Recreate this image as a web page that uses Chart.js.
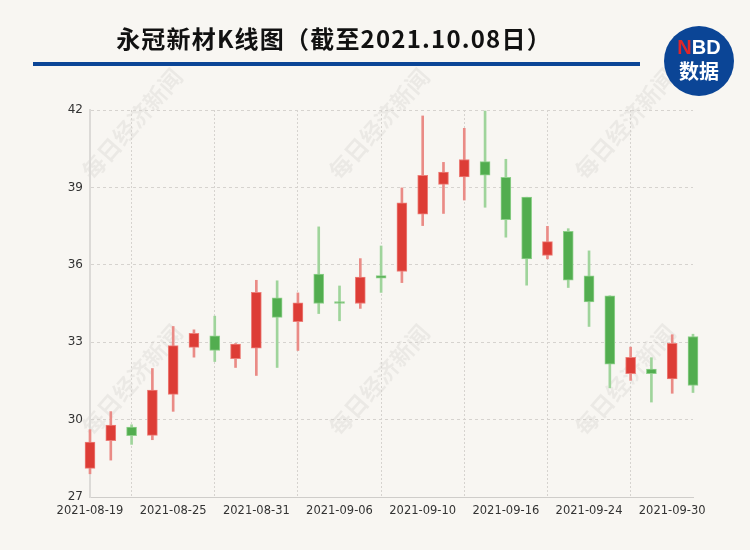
<!DOCTYPE html>
<html>
<head>
<meta charset="utf-8">
<script src="https://cdn.jsdelivr.net/npm/chart.js@4.4.0/dist/chart.umd.min.js"></script>
<style>
  body { margin: 0; background: #f8f6f2; width: 750px; height: 550px; overflow: hidden; position: relative; }
  #title { position: absolute; left: 0; width: 668px; top: 20px; text-align: center; font: bold 24px "Noto Sans CJK SC"; letter-spacing: 1.2px; color: #111; }
  #line { position: absolute; left: 33px; top: 62px; width: 607px; height: 4px; background: #0b4596; }
  #logo { position: absolute; left: 664px; top: 26px; width: 70px; height: 70px; border-radius: 50%; background: #0b4596; color: #fff; text-align: center; }
  #logo .a { position: absolute; left: 0; width: 70px; top: 10px; font: bold 20px "Liberation Sans"; line-height: 22px; }
  #logo .a span { color: #e0262b; }
  #logo .b { position: absolute; left: 0; width: 70px; top: 33px; font: bold 20px "Noto Sans CJK SC"; line-height: 24px; }
  canvas { position: absolute; left: 0; top: 0; }
</style>
</head>
<body>
<canvas id="myChart" width="750" height="550"></canvas>
<div id="title">永冠新材K线图（截至2021.10.08日）</div>
<div id="line"></div>
<div id="logo"><div class="a"><span>N</span>BD</div><div class="b">数据</div></div>
<script>
// 日K数据
const dates = ['2021-08-19', '2021-08-20', '2021-08-23', '2021-08-24', '2021-08-25', '2021-08-26', '2021-08-27', '2021-08-30', '2021-08-31',
    '2021-09-01', '2021-09-02', '2021-09-03', '2021-09-06', '2021-09-07', '2021-09-08', '2021-09-09', '2021-09-10',
    '2021-09-13', '2021-09-14', '2021-09-15', '2021-09-16', '2021-09-17', '2021-09-22', '2021-09-23', '2021-09-24',
    '2021-09-27', '2021-09-28', '2021-09-29', '2021-09-30', '2021-10-08'];
const open  = [28.11, 29.18, 29.71, 29.39, 30.98, 32.80, 33.25, 32.36, 32.77, 34.72, 33.80, 35.64, 34.53, 34.50, 35.58,
    35.74, 37.96, 39.12, 39.41, 40.00, 39.39, 38.62, 36.36, 37.30, 35.57, 34.80, 31.78, 31.96, 31.58, 33.22];
const close = [29.13, 29.79, 29.38, 31.14, 32.87, 33.34, 32.68, 32.93, 34.93, 33.96, 34.53, 34.50, 34.50, 35.52, 35.48,
    38.40, 39.47, 39.59, 40.08, 39.47, 37.75, 36.23, 36.90, 35.40, 34.56, 32.15, 32.41, 31.78, 32.96, 31.32];
const high  = [29.61, 30.31, 29.80, 31.98, 33.61, 33.48, 34.01, 32.95, 35.40, 35.38, 34.91, 37.47, 35.18, 36.24, 36.73,
    38.98, 41.77, 39.97, 41.29, 41.96, 40.09, 38.62, 37.49, 37.40, 36.54, 34.80, 32.81, 32.40, 33.29, 33.31];
const low   = [27.90, 28.43, 29.04, 29.22, 30.32, 32.42, 32.25, 32.02, 31.71, 32.02, 32.68, 34.11, 33.83, 34.31, 34.93,
    35.31, 37.52, 37.99, 38.51, 38.23, 37.07, 35.21, 36.23, 35.12, 33.61, 31.23, 31.52, 30.68, 31.02, 31.05];
const yTicks = [27, 30, 33, 36, 39, 42];

const up = (i) => close[i] >= open[i];

// 水印
const watermark = {
    id: 'watermark',
    beforeDraw(chart) {
        const c = chart.ctx;
        c.save();
        c.fillStyle = 'rgba(0,0,0,0.05)';
        c.font = 'bold 23px "Noto Sans CJK SC"';
        c.textAlign = 'center';
        c.textBaseline = 'middle';
        [132, 379, 625].forEach(x => {
            [124, 380].forEach(y => {
                c.save();
                c.translate(x, y);
                c.rotate(-0.85);
                c.fillText('每日经济新闻', 0, 0);
                c.restore();
            });
        });
        c.restore();
    }
};

const ctx = document.getElementById('myChart').getContext('2d');
const chart = new Chart(ctx, {
    type: 'bar',
    data: {
        labels: dates,
        datasets: [{
            label: 'body',
            data: dates.map((d, i) => [open[i], close[i]]),
            backgroundColor: (c) => up(c.dataIndex) ? '#dd3d36' : '#52ad4f',
            borderColor: (c) => up(c.dataIndex) ? '#ec7f79' : '#8fd08b',
            borderWidth: 1,
            borderSkipped: false,
            barThickness: 10,
            minBarLength: 2,
            grouped: false,
            clip: false,
            order: 0
        }, {
            label: 'wick',
            data: dates.map((d, i) => [low[i], high[i]]),
            backgroundColor: (c) => up(c.dataIndex) ? '#ea8b86' : '#9fd49b',
            borderWidth: 0,
            barThickness: 2,
            grouped: false,
            clip: false,
            order: 1
        }]
    },
    options: {
        responsive: false,
        animation: false,
        layout: { padding: { left: 0, right: 57, top: 110, bottom: 23 } },
        plugins: { legend: { display: false }, tooltip: { enabled: false } },
        scales: {
            x: {
                offset: false,
                grid: { color: (c) => c.index === 0 ? 'rgba(0,0,0,0)' : '#d6d3cf', drawTicks: false },
                border: { color: '#cfcdca', width: 1, dash: [2, 2] },
                ticks: {
                    autoSkip: false, maxRotation: 0, padding: 7,
                    color: '#333', font: { family: 'DejaVu Sans', size: 11.5 },
                    callback: function (v, i) { return i % 4 === 0 ? dates[i] : null; }
                },
                afterFit: (s) => { s.height = 30; }
            },
            y: {
                min: 27, max: 42,
                afterBuildTicks: (s) => { s.ticks = yTicks.map(v => ({ value: v })); },
                grid: { color: '#d6d3cf', drawTicks: false },
                border: { color: '#dcdad7', width: 2, dash: [3, 3] },
                ticks: { padding: 7, color: '#333', font: { family: 'DejaVu Sans', size: 12 } },
                afterFit: (s) => { s.width = 90; }
            }
        }
    },
    plugins: [watermark]
});
</script>
</body>
</html>
